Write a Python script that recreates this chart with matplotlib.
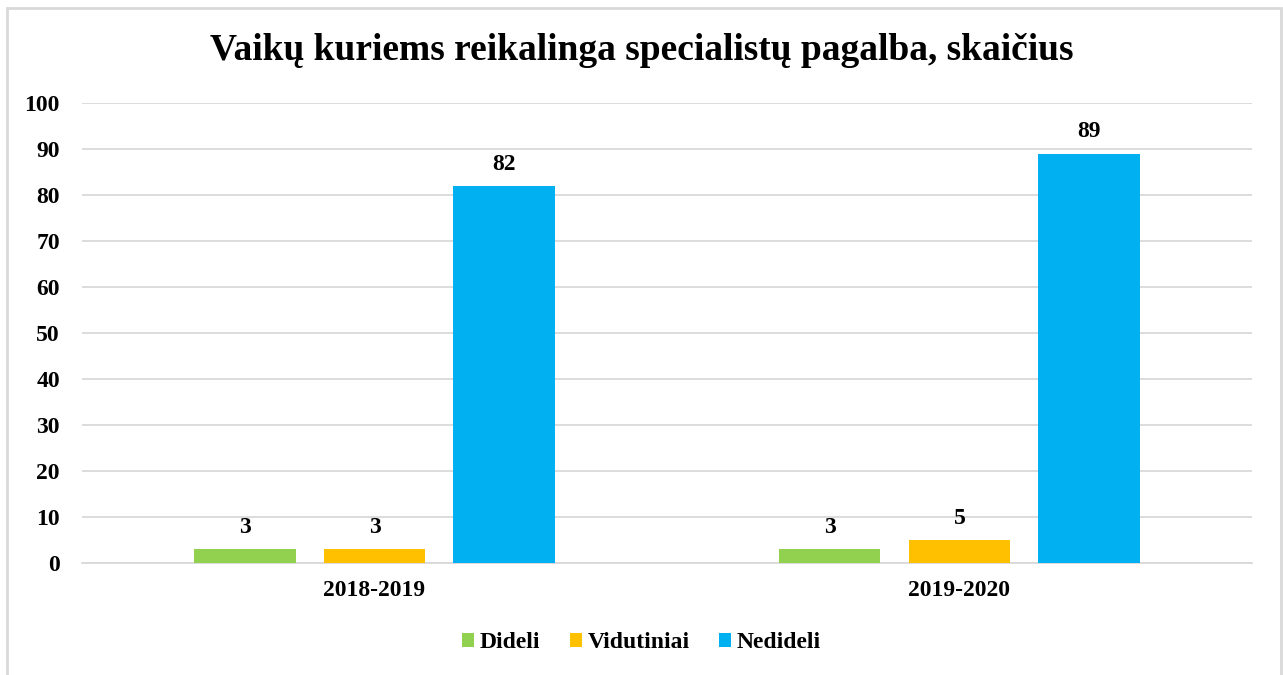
import numpy as np
import matplotlib
matplotlib.use("Agg")
from matplotlib import pyplot as plt
from matplotlib.patches import Rectangle

# Data
years = ['2018-2019', '2019-2020']
series_names = ['Dideli', 'Vidutiniai', 'Nedideli']
dideli = [3, 3]
vidutiniai = [3, 5]
nedideli = [82, 89]
colors = ['#92D050', '#FFC000', '#00B0F0']

plt.rcParams['font.family'] = ['Liberation Serif', 'DejaVu Serif']
plt.rcParams['font.weight'] = 'bold'

fig = plt.figure(figsize=(12.83, 6.75), dpi=100)
ax = fig.add_axes([0.0639, 0.1659, 0.9119, 0.6815])

# Light grey frame round the chart (no bottom edge visible)
fig.patches.append(Rectangle((6.5 / 1283, -0.05), 1274 / 1283, 1.05 - 7.5 / 675,
                             transform=fig.transFigure, fill=False,
                             edgecolor='#D9D9D9', linewidth=2))

x = np.arange(len(years))
width = 0.174
step = 0.222
for i, (vals, name) in enumerate(zip([dideli, vidutiniai, nedideli], series_names)):
    bars = ax.bar(x + (i - 1) * step, vals, width, color=colors[i], label=name, zorder=3)
    ax.bar_label(bars, padding=8, fontsize=17, fontweight='bold')

ax.set_xlim(-0.5, 1.5)
ax.set_ylim(0, 100)
ax.set_yticks(range(0, 101, 10))
ax.set_xticks(x)
ax.set_xticklabels(years)
ax.tick_params(axis='both', length=0, labelsize=17)
ax.tick_params(axis='y', pad=16)
ax.tick_params(axis='x', pad=12)
ax.grid(axis='y', color='#D9D9D9', linewidth=1.3, zorder=0)
for side in ['top', 'right', 'left']:
    ax.spines[side].set_visible(False)
ax.spines['bottom'].set_color('#D9D9D9')
ax.spines['bottom'].set_linewidth(1.3)

fig.text(0.5, 1 - 50 / 675, 'Vaikų kuriems reikalinga specialistų pagalba, skaičius',
         ha='center', va='center', fontsize=27, fontweight='bold')

fig.legend(loc='center', bbox_to_anchor=(0.5, 1 - 643 / 675), ncol=3, frameon=False,
           fontsize=17, handlelength=0.5, handleheight=0.5, handletextpad=0.25,
           columnspacing=1.25)

fig.savefig('out.png', dpi=100)
